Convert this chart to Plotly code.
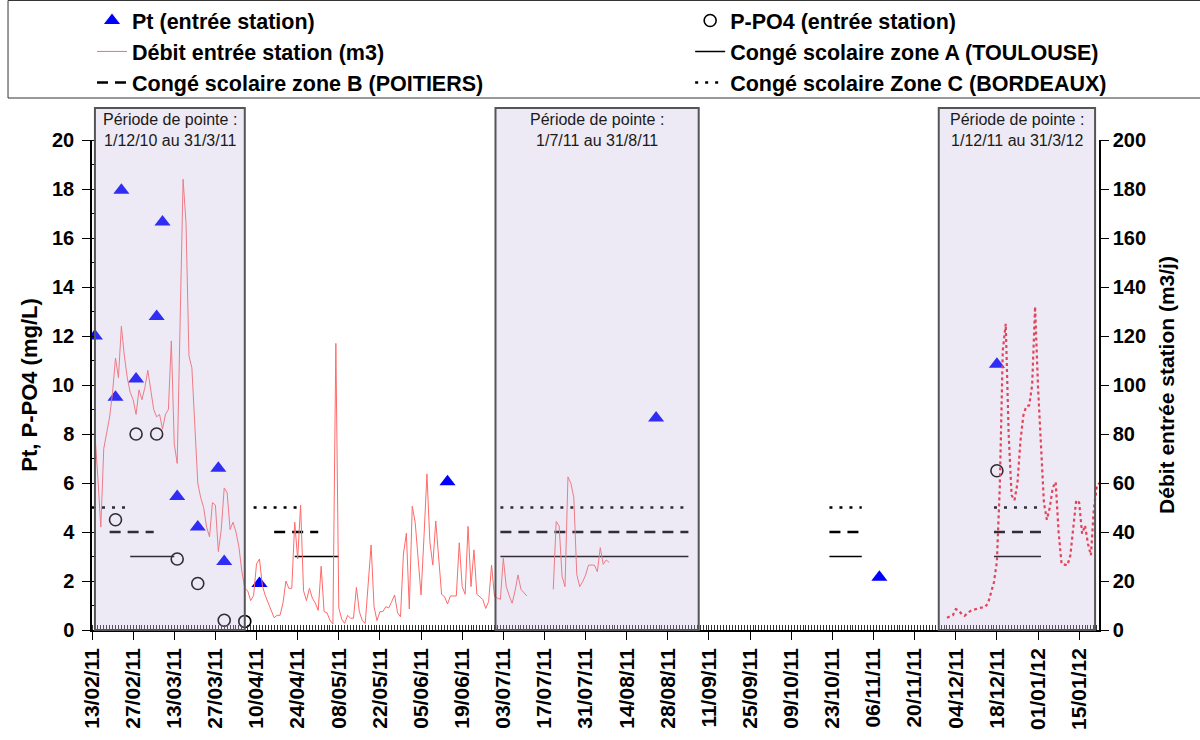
import pandas as pd
import plotly.graph_objects as go

# Pt and P-PO4 samples (mg/L)
pt_dates = ["2011-02-14", "2011-02-21", "2011-02-23", "2011-02-28", "2011-03-07", "2011-03-09",
            "2011-03-14", "2011-03-21", "2011-03-28", "2011-03-30", "2011-04-11", "2011-06-14",
            "2011-08-24", "2011-11-08", "2011-12-18"]
pt_values = [12.0, 9.5, 17.95, 10.25, 12.8, 16.65, 5.45, 4.2, 6.6, 2.8, 1.9, 6.05, 8.65, 2.15, 10.85]

ppo4_dates = ["2011-02-21", "2011-02-28", "2011-03-07", "2011-03-14", "2011-03-21", "2011-03-30",
              "2011-04-06", "2011-12-18"]
ppo4_values = [4.5, 8.0, 8.0, 2.9, 1.9, 0.4, 0.35, 6.5]

# daily inflow (m3/j), three recorded stretches
flow_start_1 = "2011-02-13"
flow_1 = [80, 80, 62, 42, 74, 81, 87, 97, 111, 103, 124, 112, 103, 97, 94, 88, 98, 94, 99, 106,
          97, 90, 87, 88, 82, 88, 90, 118, 76, 68, 126, 184, 166, 112, 107, 83, 60, 54, 50, 42,
          38, 52, 51, 32, 41, 58, 56, 41, 44, 40, 34, 24, 17, 16, 12, 14, 27, 29, 18, 14,
          11, 8, 5, 6, 6, 11, 20, 17, 17, 44, 29, 51, 16, 12, 17, 13, 11, 8, 26, 7.5,
          7, 4, 2.4, 117, 9, 4.4, 2.7, 6, 4.8, 4.8, 17.4, 7.5, 3.8, 2.7, 18, 34.7, 9.5, 3.8, 7.5, 7.5,
          9.5, 9, 11.6, 14.3, 7, 5.4, 31, 39.5, 8.6, 50.5, 44, 30, 14.3, 38, 63.7, 36, 26.5, 44.5, 28, 14.5,
          13.6, 10.6, 13.9, 14, 13.9, 35.6, 17.7, 14.6, 42.3, 17.7, 32.7, 14.6, 13.5, 12.5, 8.8, 11.6, 26.5, 13.6, 13, 12.5,
          29.3, 17.7, 14, 10.9, 16, 22.5, 16.6, 15, 13.9]
flow_start_2 = "2011-07-20"
flow_2 = [16.6, 44.3, 42.5, 21.8, 17.7, 62.5, 59.9, 54, 22.7, 17.7, 19.7, 22.4, 26.5, 26.5, 26.5,
          23.8, 33.6, 26.8, 28.6, 27.6]
flow_start_3 = "2011-12-01"
flow_3 = [5, 5.5, 6, 8.5, 8, 6.5, 5.8, 6.8, 7.8, 8.2, 8.7, 9, 9.2, 9.4, 11, 15, 19.5, 28, 59, 114,
          125, 80, 55, 53, 60, 77, 87.6, 91.3, 91.7, 100, 132, 99, 76, 52, 45, 50, 58, 60.4, 40, 27,
          26.7, 26.4, 30.5, 42.7, 53, 52, 39.3, 42.7, 35.2, 30.5, 49.5, 59, 60]

# school holidays (first day, last day)
zone_a = [("2011-02-26", "2011-03-13"), ("2011-04-23", "2011-05-08"), ("2011-07-02", "2011-09-04"),
          ("2011-10-22", "2011-11-02"), ("2011-12-17", "2012-01-02")]
zone_b = [("2011-02-19", "2011-03-06"), ("2011-04-16", "2011-05-01"), ("2011-07-02", "2011-09-04"),
          ("2011-10-22", "2011-11-02"), ("2011-12-17", "2012-01-02")]
zone_c = [("2011-02-13", "2011-02-26"), ("2011-04-09", "2011-04-24"), ("2011-07-02", "2011-09-04"),
          ("2011-10-22", "2011-11-02"), ("2011-12-17", "2012-01-02")]
level_a, level_b, level_c = 3, 4, 5

# peak periods
periods = [("2011-02-14", "2011-04-06", "Période de pointe :<br>1/12/10 au 31/3/11"),
           ("2011-06-30 08:00", "2011-09-07 12:00", "Période de pointe :<br>1/7/11 au 31/8/11"),
           ("2011-11-28 05:00", "2012-01-20 10:00", "Période de pointe :<br>1/12/11 au 31/3/12")]

FONT = "Liberation Sans, Arial, sans-serif"


def holiday_xy(spans, level):
    xs, ys = [], []
    for a, b in spans:
        xs += [a, b, None]
        ys += [level, level, None]
    return xs, ys


def days(start, values):
    return pd.date_range(start, periods=len(values), freq="D")


fig = go.Figure()

# left legend column: Pt, Débit, zone B ; right column: P-PO4, zone A, zone C
fig.add_trace(go.Scatter(x=pt_dates, y=pt_values, mode="markers", name="Pt (entrée station)",
                         legend="legend", legendrank=1,
                         marker=dict(symbol="triangle-up", size=14, color="#0000ff")))
fig.add_trace(go.Scatter(x=ppo4_dates, y=ppo4_values, mode="markers", name="P-PO4 (entrée station)",
                         legend="legend2", legendrank=1,
                         marker=dict(symbol="circle-open", size=12, color="black", line=dict(width=1.6))))
fig.add_trace(go.Scatter(x=list(days(flow_start_1, flow_1)) + [None] + list(days(flow_start_2, flow_2)),
                         y=flow_1 + [None] + flow_2, mode="lines", yaxis="y2",
                         name="Débit entrée station (m3)", legend="legend", legendrank=2,
                         line=dict(color="#ff6a6a", width=1)))
for spans, level, dash, w, label, leg, rank in [
        (zone_a, level_a, "solid", 1.5, "Congé scolaire zone A (TOULOUSE)", "legend2", 2),
        (zone_b, level_b, "11px,7px", 2.5, "Congé scolaire zone B (POITIERS)", "legend", 3),
        (zone_c, level_c, "3px,7px", 2.5, "Congé scolaire Zone C (BORDEAUX)", "legend2", 3)]:
    hx, hy = holiday_xy(spans, level)
    fig.add_trace(go.Scatter(x=hx, y=hy, mode="lines", name=label, legend=leg, legendrank=rank,
                             line=dict(color="black", width=w, dash=dash)))
fig.add_trace(go.Scatter(x=days(flow_start_3, flow_3), y=flow_3, mode="lines", yaxis="y2",
                         showlegend=False, line=dict(color="#f02030", width=2.2, dash="3px,3px")))

shapes = []
annotations = []
for x0, x1, label in periods:
    shapes.append(dict(type="rect", xref="x", yref="paper", x0=x0, x1=x1, y0=0, y1=1.0653,
                       fillcolor="rgba(185,175,215,0.26)", line=dict(color="#555555", width=2),
                       layer="above"))
    mid = pd.Timestamp(x0) + (pd.Timestamp(x1) - pd.Timestamp(x0)) / 2
    annotations.append(dict(x=mid, y=1.0633, xref="x", yref="paper", text=label, showarrow=False,
                            xanchor="center", yanchor="top", align="center",
                            font=dict(family=FONT, size=16, color="#1a1a1a")))
# legend frame
shapes.append(dict(type="rect", xref="paper", yref="paper", x0=-0.0834, x1=1.105, y0=1.0857, y1=1.2847,
                   line=dict(color="#333", width=1), fillcolor="rgba(0,0,0,0)", layer="below"))

legend_style = dict(orientation="v", y=1.2857, xanchor="left", yanchor="top", bgcolor="rgba(0,0,0,0)",
                    font=dict(family=FONT, size=21.5, weight="bold"), tracegroupgap=0)

fig.update_layout(
    width=1200, height=740,
    margin=dict(l=92, r=101, t=140, b=110, autoexpand=False),
    paper_bgcolor="white", plot_bgcolor="white",
    font=dict(family=FONT, color="black"),
    showlegend=True,
    legend=dict(legend_style, x=0.0),
    legend2=dict(legend_style, x=0.594),
    shapes=shapes, annotations=annotations,
    xaxis=dict(type="date", range=["2011-02-13", "2012-01-21 18:00"], automargin=False,
               tick0="2011-02-13", dtick=14 * 86400000, tickformat="%d/%m/%y", tickangle=-90,
               ticks="outside", ticklen=8, tickwidth=1.2, tickcolor="black",
               showline=True, linecolor="black", linewidth=1.5, showgrid=False, zeroline=False,
               tickfont=dict(family=FONT, size=21, weight="bold"),
               minor=dict(dtick=86400000, tick0="2011-02-13", ticks="inside", ticklen=5,
                          tickcolor="#333", tickwidth=1, showgrid=False)),
    yaxis=dict(range=[0, 20], dtick=2, ticks="outside", ticklen=8, tickcolor="black", automargin=False,
               showline=True, linecolor="black", linewidth=1.5, showgrid=False, zeroline=False,
               ticklabelstandoff=4,
               tickfont=dict(family=FONT, size=20, weight="bold"),
               title=dict(text="Pt, P-PO4 (mg/L)", font=dict(family=FONT, size=22, weight="bold"), standoff=8),
               minor=dict(dtick=1, ticks="inside", ticklen=4, tickcolor="black", showgrid=False)),
    yaxis2=dict(range=[0, 200], dtick=20, overlaying="y", side="right", ticks="outside", ticklen=8,
                tickcolor="black", showline=True, linecolor="black", linewidth=1.5, showgrid=False,
                zeroline=False, automargin=False, tickfont=dict(family=FONT, size=20, weight="bold"),
                title=dict(text="Débit entrée station (m3/j)", font=dict(family=FONT, size=21, weight="bold"),
                           standoff=14)),
)

# drop the browser's default 8px body margin so the figure sits at the page origin
fig.write_html("out.html", config={"displayModeBar": False},
               post_script="document.body.style.margin = '0px';")
